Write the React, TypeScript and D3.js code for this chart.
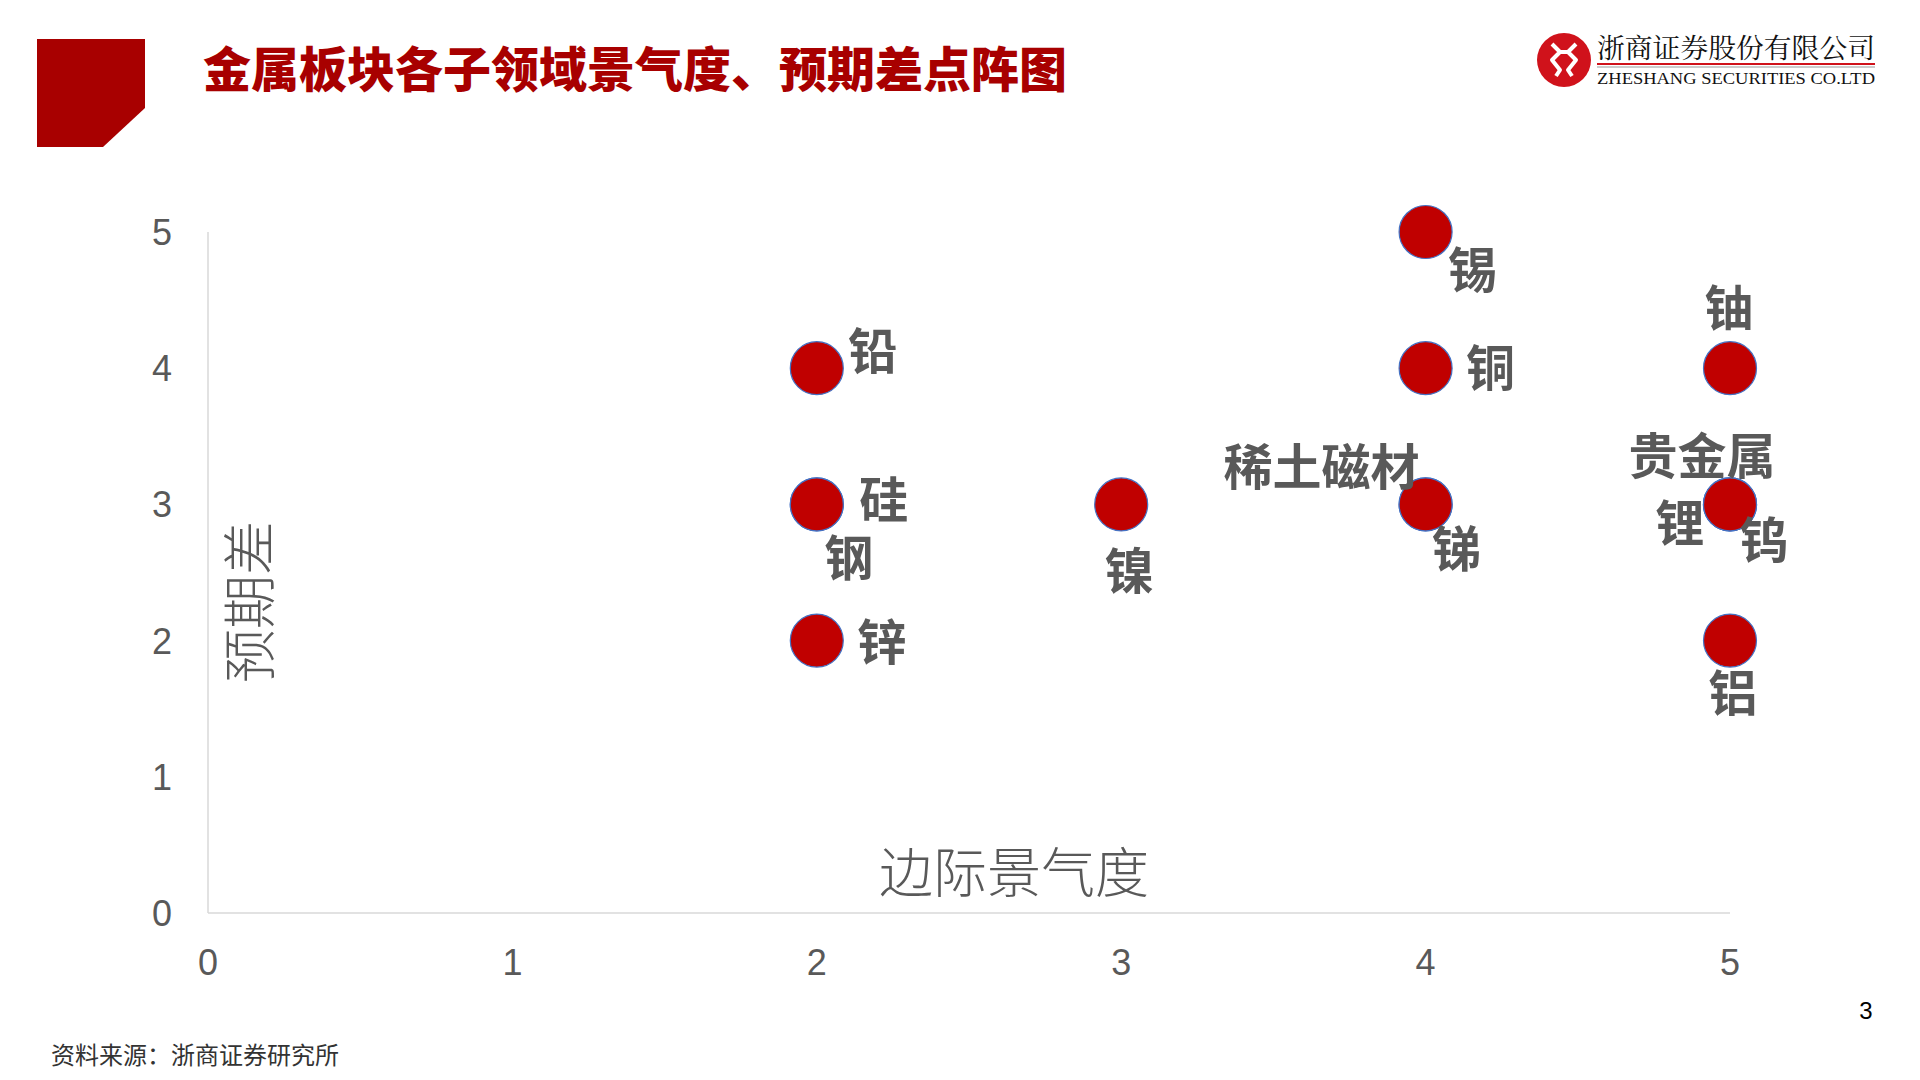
import React from 'react';
import * as d3 from 'd3';

// 各子领域：边际景气度(x) / 预期差(y)
const sectors = ['铅', '硅', '钢', '锌', '镍', '锡', '铜', '稀土磁材', '锑', '铀', '贵金属', '锂', '钨', '铝'];
const marginalBoom = [2, 2, 2, 2, 3, 4, 4, 4, 4, 5, 5, 5, 5, 5];
const expectGap = [4, 3, 3, 2, 3, 5, 4, 3, 3, 4, 3, 3, 3, 2];

const xTicks = [0, 1, 2, 3, 4, 5];
const yTicks = [0, 1, 2, 3, 4, 5];

const title = '金属板块各子领域景气度、预期差点阵图';
const xTitle = '边际景气度';
const yTitle = '预期差';
const source = '资料来源：浙商证券研究所';

// label placement relative to the dot centre (px)
const labelOffset: Record<string, [number, number]> = {
  铅: [56, -16],
  硅: [67, -3],
  钢: [32, 55],
  锌: [65, 2],
  镍: [8, 68],
  锡: [47, 39],
  铜: [65, 1],
  稀土磁材: [-104, -36],
  锑: [31, 46],
  铀: [-1, -59],
  贵金属: [-28, -47],
  锂: [-50, 20],
  钨: [34, 37],
  铝: [3, 53],
};

const W = 1920;
const H = 1080;
const RED = '#A80000';
const GRAY = '#595959';
const CJK = '"Noto Sans CJK SC", "Noto Sans", sans-serif';

const App: React.FC = () => {
  const x = d3.scaleLinear().domain([0, 5]).range([208, 1730]);
  const y = d3.scaleLinear().domain([0, 5]).range([913, 232]);

  return (
    <svg width={W} height={H} style={{ position: 'absolute', left: 0, top: 0, background: '#fff' }}>
      {/* header block */}
      <polygon points="37,39 145,39 145,108 103,147 37,147" fill={RED} />
      <text x={203} y={87} fontFamily={CJK} fontWeight={900} fontSize={48} fill={RED}>
        {title}
      </text>

      {/* logo */}
      <g>
        <circle cx={1564} cy={60} r={27} fill="#D0121B" />
        <path
          d="M1552,44 L1560,52 L1552,60 L1560,70 L1556,76 M1576,44 L1568,52 L1576,60 L1568,70 L1572,76 M1560,52 L1568,52"
          stroke="#fff"
          strokeWidth={4}
          fill="none"
          strokeLinejoin="round"
        />
        <text x={1597} y={58} fontFamily='"Noto Serif CJK SC", "Noto Sans CJK SC", serif' fontSize={27} fill="#111"
          textLength={278} lengthAdjust="spacingAndGlyphs">
          浙商证券股份有限公司
        </text>
        <line x1={1597} x2={1875} y1={64} y2={64} stroke="#D0121B" strokeWidth={2} />
        <line x1={1597} x2={1875} y1={67} y2={67} stroke="#999" strokeWidth={1} />
        <text x={1597} y={84} fontFamily='"Liberation Serif", serif' fontSize={17} fill="#111"
          textLength={278} lengthAdjust="spacingAndGlyphs">
          ZHESHANG SECURITIES CO.LTD
        </text>
      </g>

      {/* axes */}
      <line x1={x(0)} x2={x(0)} y1={y(5)} y2={y(0)} stroke="#D9D9D9" strokeWidth={1.5} />
      <line x1={x(0)} x2={x(5)} y1={y(0)} y2={y(0)} stroke="#D9D9D9" strokeWidth={1.5} />

      {yTicks.map((t) => (
        <text key={'y' + t} x={162} y={y(t) + 13} textAnchor="middle" fontFamily='"Liberation Sans", Arial, sans-serif'
          fontSize={36} fill={GRAY}>
          {t}
        </text>
      ))}
      {xTicks.map((t) => (
        <text key={'x' + t} x={x(t)} y={975} textAnchor="middle" fontFamily='"Liberation Sans", Arial, sans-serif'
          fontSize={36} fill={GRAY}>
          {t}
        </text>
      ))}

      <text x={1014} y={893} textAnchor="middle" fontFamily={CJK} fontWeight={300} fontSize={54} fill={GRAY}>
        {xTitle}
      </text>
      <text transform="translate(270,602) rotate(-90)" textAnchor="middle" fontFamily={CJK} fontWeight={300}
        fontSize={54} fill={GRAY}>
        {yTitle}
      </text>

      {/* dots */}
      {sectors.map((s, i) => (
        <circle key={'c' + s} cx={x(marginalBoom[i])} cy={y(expectGap[i])} r={26.5} fill="#C00000"
          stroke="#4472C4" strokeWidth={1.2} />
      ))}
      {sectors.map((s, i) => {
        const [dx, dy] = labelOffset[s];
        return (
          <text key={'t' + s} x={x(marginalBoom[i]) + dx} y={y(expectGap[i]) + dy + 17} textAnchor="middle"
            fontFamily={CJK} fontWeight={700} fontSize={49} fill={GRAY}>
            {s}
          </text>
        );
      })}

      <text x={1866} y={1019} textAnchor="middle" fontFamily='"Liberation Sans", Arial, sans-serif' fontSize={24}
        fill="#000">
        3
      </text>
      <text x={51} y={1064} fontFamily={CJK} fontSize={24} fill="#333">
        {source}
      </text>
    </svg>
  );
};

export default App;
